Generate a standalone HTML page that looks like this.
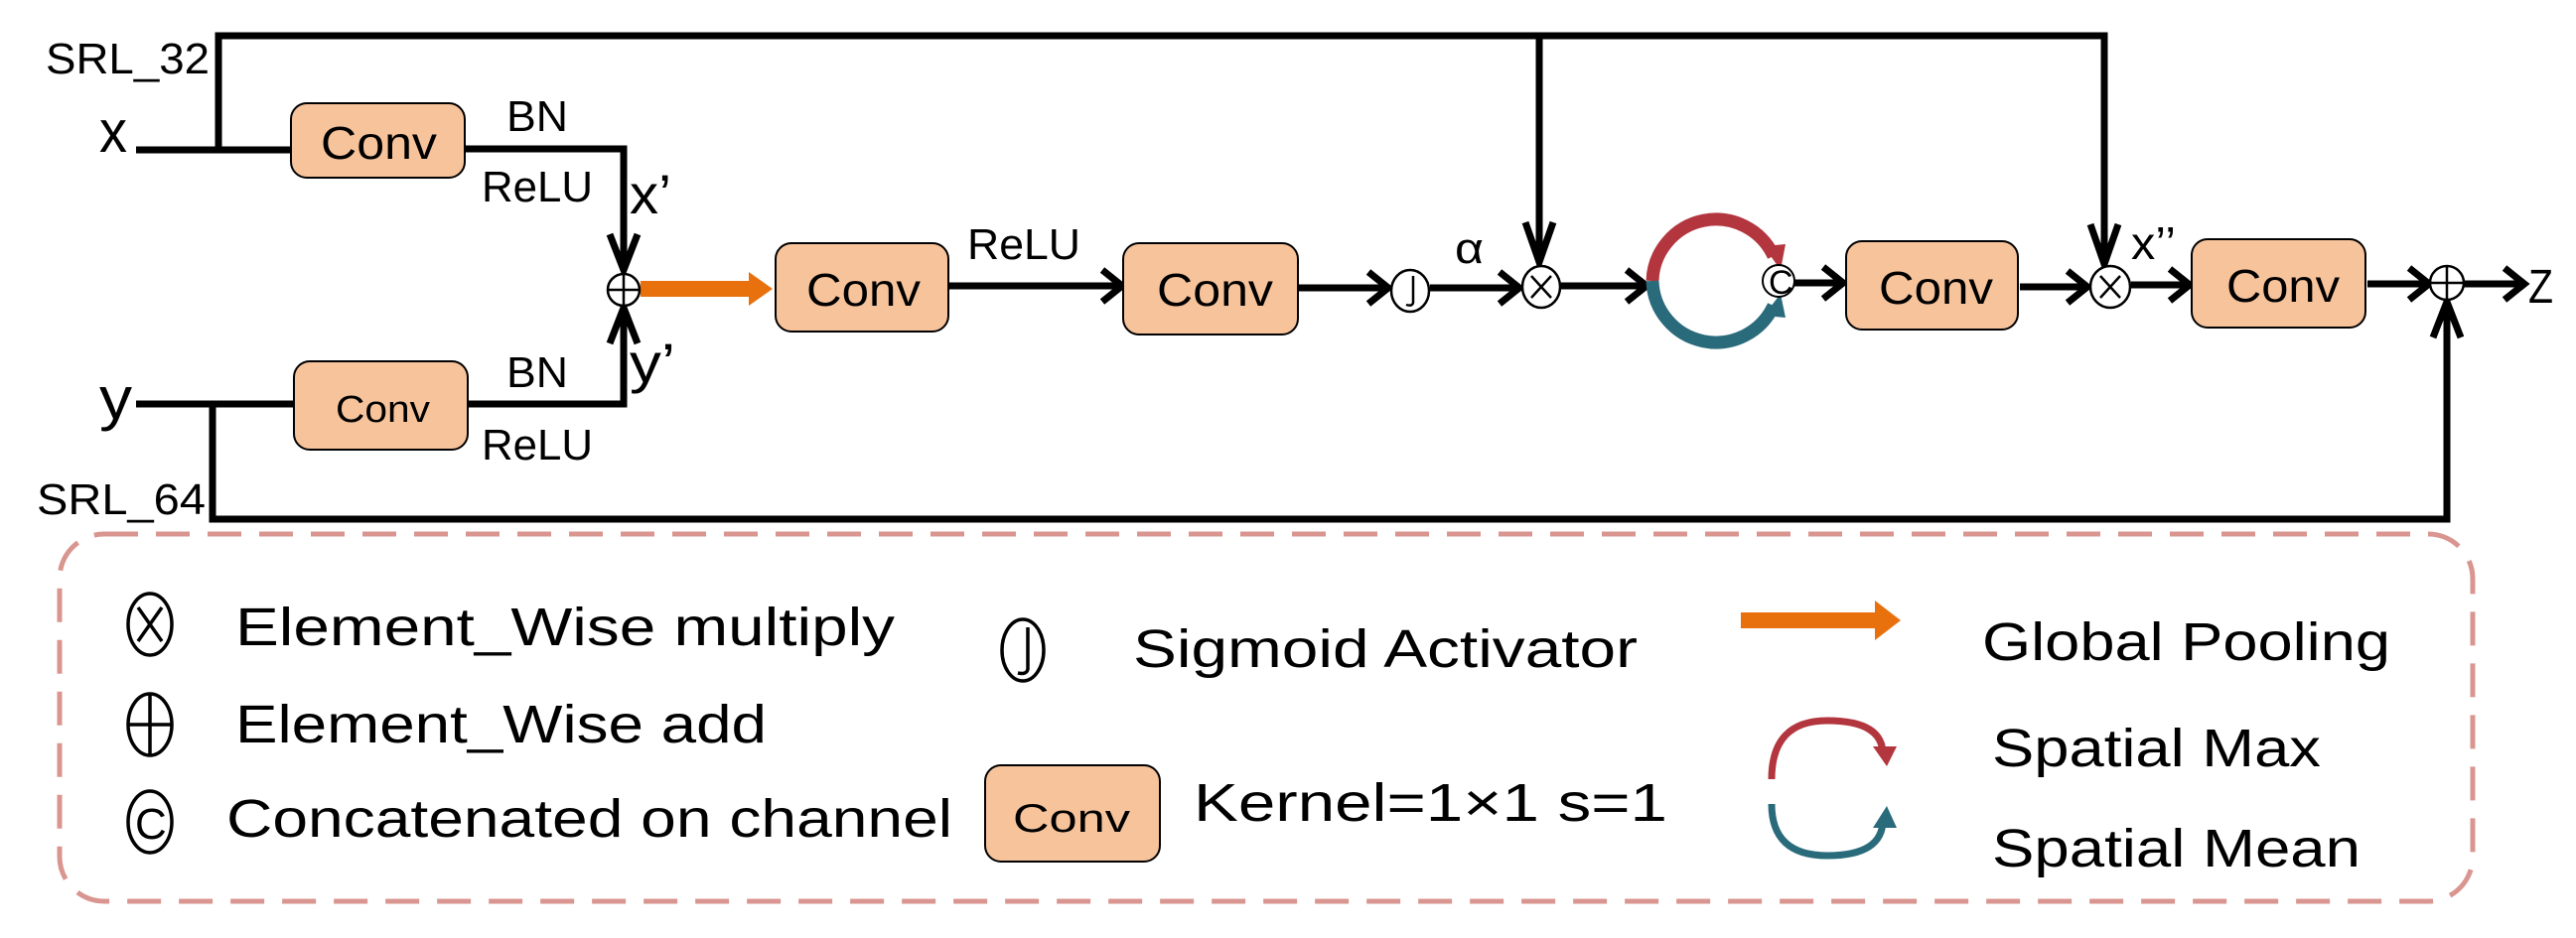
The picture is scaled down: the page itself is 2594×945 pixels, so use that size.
<!DOCTYPE html>
<html><head><meta charset="utf-8"><style>
html,body{margin:0;padding:0;background:#fff;}
svg{display:block;}
text{font-family:"Liberation Sans",sans-serif;fill:#000;}
</style></head><body>
<svg width="2594" height="945" viewBox="0 0 2594 945" xmlns="http://www.w3.org/2000/svg">
<g fill="none" stroke="#000" stroke-width="7" stroke-linejoin="miter" stroke-linecap="butt">
<polyline points="220,152 220,36 2119,36 2119,262"/>
<line x1="1550" y1="36" x2="1550" y2="262"/>
<line x1="137" y1="151" x2="293" y2="151"/>
<polyline points="468,150 628,150 628,272"/>
<line x1="137" y1="407" x2="296" y2="407"/>
<polyline points="471,407 628,407 628,312"/>
<polyline points="214,407 214,523 2464,523 2464,307"/>
<line x1="955" y1="288" x2="1128" y2="288"/>
<line x1="1308" y1="290" x2="1396" y2="290"/>
<line x1="1440" y1="290" x2="1528" y2="290"/>
<line x1="1572" y1="288" x2="1656" y2="288"/>
<line x1="1807" y1="285" x2="1855" y2="285"/>
<line x1="2034" y1="289" x2="2100" y2="289"/>
<line x1="2146" y1="287" x2="2203" y2="287"/>
<line x1="2384" y1="286" x2="2444" y2="286"/>
<line x1="2481" y1="286" x2="2540" y2="286"/>
<polyline points="614,236 628,272 642,236"/>
<polyline points="614,346 628,310 642,346"/>
<polyline points="1110,272 1130,288 1110,304"/>
<polyline points="1378,274 1398,290 1378,306"/>
<polyline points="1510,274 1530,290 1510,306"/>
<polyline points="1536,224 1550,264 1564,224"/>
<polyline points="1638,272 1658,288 1638,304"/>
<polyline points="1836,269 1856,285 1836,301"/>
<polyline points="2105,226 2119,266 2133,226"/>
<polyline points="2082,273 2102,289 2082,305"/>
<polyline points="2185,271 2205,287 2185,303"/>
<polyline points="2426,270 2446,286 2426,302"/>
<polyline points="2450,340 2464,304 2478,340"/>
<polyline points="2522,270 2542,286 2522,302"/>
</g>
<rect x="645" y="283" width="112" height="16" fill="#e8710e"/>
<polygon points="754,274 778,291 754,308" fill="#e8710e"/>
<g fill="#f7c39b" stroke="#000" stroke-width="2">
<rect x="293" y="104" width="175" height="75" rx="16"/>
<rect x="296" y="364" width="175" height="89" rx="16"/>
<rect x="781" y="245" width="174" height="89" rx="16"/>
<rect x="1131" y="245" width="176" height="92" rx="16"/>
<rect x="1859" y="243" width="173" height="89" rx="16"/>
<rect x="2207" y="241" width="175" height="89" rx="16"/>
<rect x="992" y="771" width="176" height="97" rx="16"/>
</g>
<g font-size="46">
<text x="323" y="160" textLength="117" lengthAdjust="spacingAndGlyphs">Conv</text>
<text x="338" y="425" font-size="38" textLength="95" lengthAdjust="spacingAndGlyphs">Conv</text>
<text x="812" y="308" textLength="115" lengthAdjust="spacingAndGlyphs">Conv</text>
<text x="1165" y="308" textLength="117" lengthAdjust="spacingAndGlyphs">Conv</text>
<text x="1892" y="306" textLength="115" lengthAdjust="spacingAndGlyphs">Conv</text>
<text x="2242" y="304" textLength="114" lengthAdjust="spacingAndGlyphs">Conv</text>
<text x="1020" y="838" font-size="40" textLength="118" lengthAdjust="spacingAndGlyphs">Conv</text>
</g>
<g font-size="44">
<text x="46" y="74" textLength="165" lengthAdjust="spacingAndGlyphs">SRL_32</text>
<text x="37" y="518" textLength="170" lengthAdjust="spacingAndGlyphs">SRL_64</text>
<text x="510" y="132" textLength="62" lengthAdjust="spacingAndGlyphs">BN</text>
<text x="485" y="203" textLength="112" lengthAdjust="spacingAndGlyphs">ReLU</text>
<text x="510" y="390" textLength="62" lengthAdjust="spacingAndGlyphs">BN</text>
<text x="485" y="463" textLength="112" lengthAdjust="spacingAndGlyphs">ReLU</text>
<text x="974" y="261" textLength="114" lengthAdjust="spacingAndGlyphs">ReLU</text>
<text x="2546" y="305" font-size="48" textLength="25" lengthAdjust="spacingAndGlyphs">Z</text>
</g>
<g font-size="60">
<text x="100" y="153" textLength="28" lengthAdjust="spacingAndGlyphs">x</text>
<text x="100" y="422" textLength="33" lengthAdjust="spacingAndGlyphs">y</text>
<text x="634" y="215" font-size="56" textLength="42" lengthAdjust="spacingAndGlyphs">x’</text>
<text x="634" y="385" font-size="56" textLength="46" lengthAdjust="spacingAndGlyphs">y’</text>
<text x="2146" y="261" font-size="46" textLength="45" lengthAdjust="spacingAndGlyphs">x’’</text>
<text x="1465" y="265" font-size="44" font-family="Liberation Serif" textLength="29" lengthAdjust="spacingAndGlyphs">α</text>
</g>
<g fill="#fff" stroke="#000" stroke-width="2.5">
<circle cx="628" cy="292" r="16"/>
<ellipse cx="1420" cy="293" rx="19" ry="21"/>
<ellipse cx="1552" cy="289" rx="19" ry="21"/>
<ellipse cx="2125" cy="289" rx="20" ry="21"/>
<circle cx="2464" cy="285" r="17"/>
</g>
<g stroke="#000" stroke-width="2.5" fill="none">
<line x1="612" y1="292" x2="644" y2="292"/><line x1="628" y1="276" x2="628" y2="308"/>
<line x1="2447" y1="285" x2="2481" y2="285"/><line x1="2464" y1="268" x2="2464" y2="302"/>
<line x1="1542" y1="278" x2="1562" y2="300"/><line x1="1562" y1="278" x2="1542" y2="300"/>
<line x1="2115" y1="278" x2="2135" y2="300"/><line x1="2135" y1="278" x2="2115" y2="300"/>
<path d="M1423,278 L1423,305 Q1422,309 1416,307"/>
</g>
<g fill="none" stroke-width="13">
<path d="M1664,283 A64,64 0 0 1 1786,258" stroke="#b3363e"/>
<path d="M1664,283 A64,64 0 0 0 1786,308" stroke="#2a6b7b"/>
</g>
<polygon points="1776,248 1798,246 1793,272" fill="#b3363e"/>
<polygon points="1776,318 1798,320 1793,296" fill="#2a6b7b"/>
<circle cx="1791" cy="283" r="16" fill="#fff" stroke="#000" stroke-width="2"/>
<text x="1781" y="296" font-size="34" font-family="Liberation Serif">C</text>
<rect x="60" y="538" width="2430" height="370" rx="45" fill="none" stroke="#d9958f" stroke-width="5" stroke-dasharray="34 18"/>
<g fill="#fff" stroke="#000" stroke-width="3.5">
<ellipse cx="151" cy="629" rx="22" ry="31"/>
<ellipse cx="151" cy="730" rx="22" ry="31"/>
<ellipse cx="151" cy="828" rx="22" ry="31"/>
<ellipse cx="1030" cy="655" rx="21" ry="31"/>
</g>
<g stroke="#000" stroke-width="3.5" fill="none">
<line x1="139" y1="612" x2="163" y2="646"/><line x1="163" y1="612" x2="139" y2="646"/>
<line x1="129" y1="730" x2="173" y2="730"/><line x1="151" y1="699" x2="151" y2="761"/>
<path d="M1035,632 L1035,674 Q1034,680 1025,678"/>
</g>
<text x="136" y="845" font-size="44" font-family="Liberation Serif">C</text>
<g font-size="54">
<text x="237" y="650" textLength="664" lengthAdjust="spacingAndGlyphs">Element_Wise multiply</text>
<text x="237" y="748" textLength="535" lengthAdjust="spacingAndGlyphs">Element_Wise add</text>
<text x="228" y="843" textLength="731" lengthAdjust="spacingAndGlyphs">Concatenated on channel</text>
<text x="1141" y="672" textLength="508" lengthAdjust="spacingAndGlyphs">Sigmoid Activator</text>
<text x="1202" y="827" textLength="477" lengthAdjust="spacingAndGlyphs">Kernel=1×1 s=1</text>
<text x="1996" y="665" textLength="411" lengthAdjust="spacingAndGlyphs">Global Pooling</text>
<text x="2006" y="772" textLength="331" lengthAdjust="spacingAndGlyphs">Spatial Max</text>
<text x="2006" y="873" textLength="371" lengthAdjust="spacingAndGlyphs">Spatial Mean</text>
</g>
<rect x="1753" y="617" width="140" height="16" fill="#e8710e"/>
<polygon points="1888,605 1914,625 1888,645" fill="#e8710e"/>
<path d="M1784,785 Q1784,726 1840,726 Q1896,726 1896,760" fill="none" stroke="#b3363e" stroke-width="7"/>
<polygon points="1886,752 1910,752 1900,772" fill="#b3363e"/>
<path d="M1784,810 Q1784,862 1840,862 Q1896,862 1896,826" fill="none" stroke="#2a6b7b" stroke-width="7"/>
<polygon points="1886,834 1910,834 1900,812" fill="#2a6b7b"/>
</svg>
</body></html>
